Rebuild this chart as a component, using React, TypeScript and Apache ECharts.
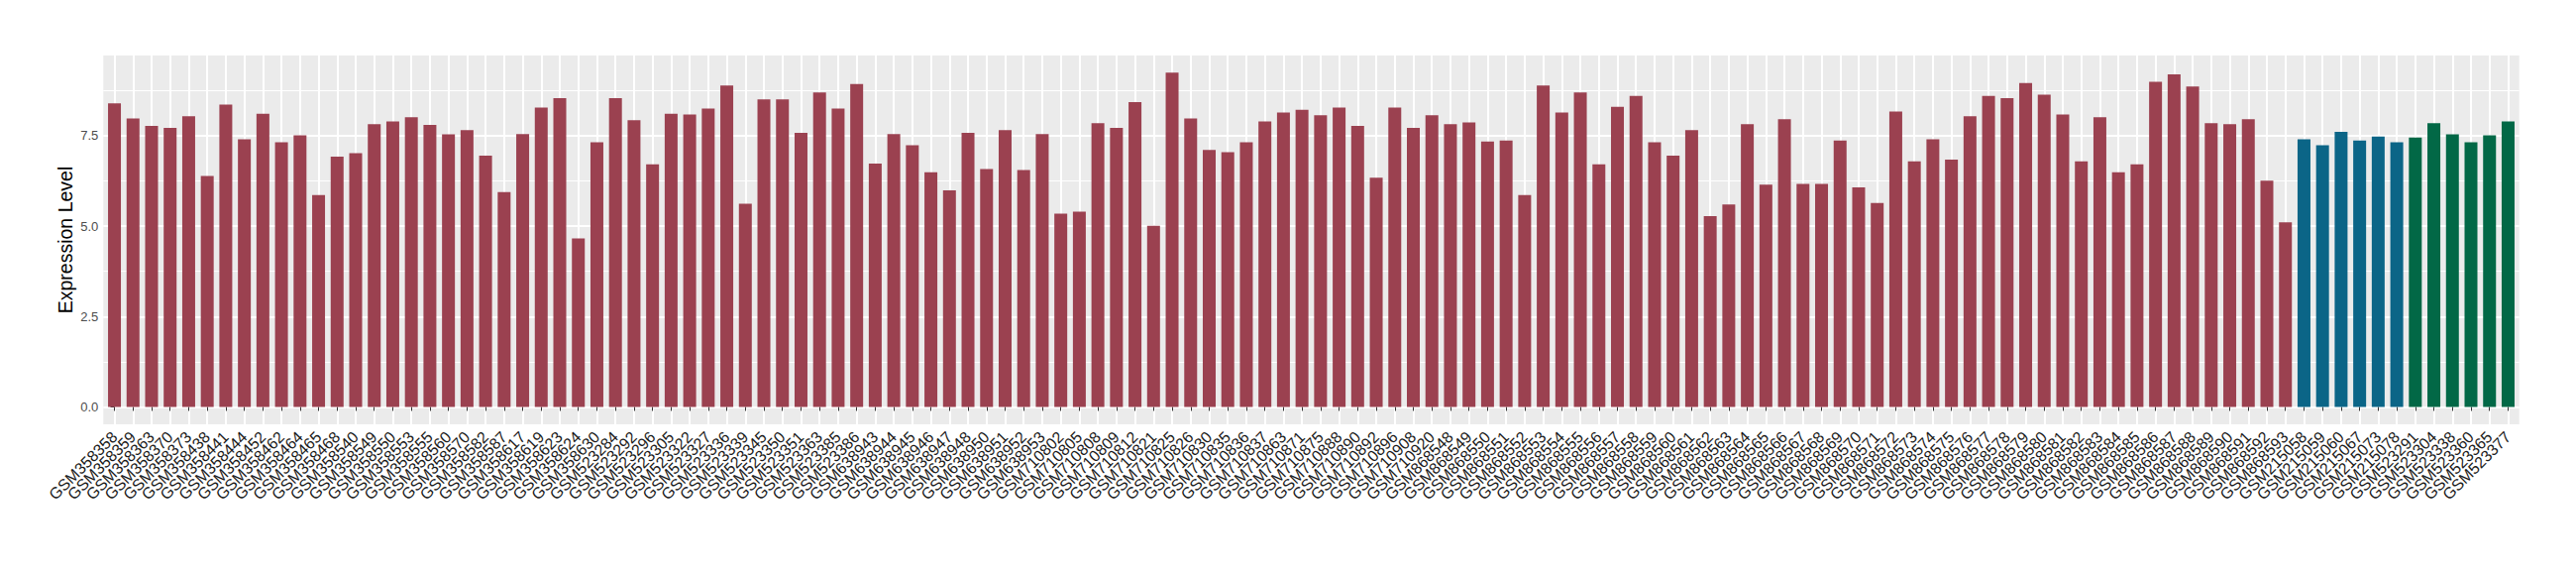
import React, { useEffect, useRef } from "react";
import * as echarts from "echarts";

// Group 1 (red)
const groupA_samples = [
  "GSM358358", "GSM358359", "GSM358363", "GSM358370", "GSM358373", "GSM358438", "GSM358441", "GSM358444",
  "GSM358452", "GSM358462", "GSM358464", "GSM358465", "GSM358468", "GSM358540", "GSM358549", "GSM358550",
  "GSM358553", "GSM358555", "GSM358560", "GSM358570", "GSM358582", "GSM358587", "GSM358617", "GSM358619",
  "GSM358623", "GSM358624", "GSM358630", "GSM523284", "GSM523292", "GSM523296", "GSM523305", "GSM523322",
  "GSM523327", "GSM523336", "GSM523339", "GSM523345", "GSM523350", "GSM523351", "GSM523363", "GSM523385",
  "GSM523386", "GSM638943", "GSM638944", "GSM638945", "GSM638946", "GSM638947", "GSM638948", "GSM638950",
  "GSM638951", "GSM638952", "GSM638953", "GSM710802", "GSM710805", "GSM710808", "GSM710809", "GSM710812",
  "GSM710821", "GSM710825", "GSM710826", "GSM710830", "GSM710835", "GSM710836", "GSM710837", "GSM710863",
  "GSM710871", "GSM710875", "GSM710888", "GSM710890", "GSM710892", "GSM710896", "GSM710908", "GSM710920",
  "GSM868548", "GSM868549", "GSM868550", "GSM868551", "GSM868552", "GSM868553", "GSM868554", "GSM868555",
  "GSM868556", "GSM868557", "GSM868558", "GSM868559", "GSM868560", "GSM868561", "GSM868562", "GSM868563",
  "GSM868564", "GSM868565", "GSM868566", "GSM868567", "GSM868568", "GSM868569", "GSM868570", "GSM868571",
  "GSM868572", "GSM868573", "GSM868574", "GSM868575", "GSM868576", "GSM868577", "GSM868578", "GSM868579",
  "GSM868580", "GSM868581", "GSM868582", "GSM868583", "GSM868584", "GSM868585", "GSM868586", "GSM868587",
  "GSM868588", "GSM868589", "GSM868590", "GSM868591", "GSM868592", "GSM868593",
];
const groupA_values = [
  8.40, 7.98, 7.77, 7.72, 8.04, 6.39, 8.36, 7.40,
  8.11, 7.32, 7.51, 5.86, 6.92, 7.02, 7.82, 7.90,
  8.01, 7.80, 7.54, 7.66, 6.95, 5.94, 7.55, 8.28,
  8.54, 4.66, 7.32, 8.54, 7.93, 6.71, 8.11, 8.09,
  8.25, 8.89, 5.62, 8.51, 8.51, 7.58, 8.70, 8.25,
  8.93, 6.73, 7.55, 7.24, 6.49, 5.99, 7.58, 6.58,
  7.66, 6.55, 7.55, 5.35, 5.40, 7.85, 7.72, 8.43,
  5.01, 9.25, 7.98, 7.11, 7.05, 7.32, 7.90, 8.14,
  8.22, 8.07, 8.28, 7.77, 6.34, 8.28, 7.72, 8.07,
  7.82, 7.87, 7.34, 7.37, 5.86, 8.89, 8.14, 8.70,
  6.71, 8.30, 8.60, 7.32, 6.95, 7.66, 5.28, 5.60,
  7.82, 6.15, 7.96, 6.17, 6.17, 7.37, 6.07, 5.64,
  8.17, 6.79, 7.40, 6.84, 8.04, 8.60, 8.54, 8.96,
  8.64, 8.09, 6.79, 8.01, 6.49, 6.71, 8.99, 9.20,
  8.86, 7.85, 7.82, 7.96, 6.26, 5.11,
];

// Group 2 (blue)
const groupB_samples = ["GSM215058", "GSM215059", "GSM215060", "GSM215067", "GSM215073", "GSM215078"];
const groupB_values = [7.40, 7.24, 7.61, 7.37, 7.48, 7.32];

// Group 3 (green)
const groupC_samples = ["GSM523291", "GSM523304", "GSM523338", "GSM523360", "GSM523365", "GSM523377"];
const groupC_values = [7.45, 7.85, 7.54, 7.32, 7.51, 7.90];

const groupColors = ["#9B4150", "#0B6587", "#026846"];

const yTickValues = [0, 2.5, 5, 7.5];
const yMin = -0.48;
const yMax = 9.72;
const yTitle = "Expression Level";

const FONT = "'Liberation Sans', Arial, Helvetica, sans-serif";

// panel geometry (ggplot-like: 0.6 category expansion each side)
const PANEL_LEFT = 104.3;
const PANEL_RIGHT = 2542.7;
const PANEL_TOP = 56;
const PANEL_BOTTOM = 428;
const W = 2600;
const H = 580;

export default function App() {
  const ref = useRef<HTMLDivElement>(null);

  useEffect(() => {
    if (!ref.current) return;
    const chart = echarts.init(ref.current, undefined, { renderer: "svg" });

    const groups = [
      { names: groupA_samples, values: groupA_values, color: groupColors[0] },
      { names: groupB_samples, values: groupB_values, color: groupColors[1] },
      { names: groupC_samples, values: groupC_values, color: groupColors[2] },
    ];
    const categories: string[] = [];
    const data: any[] = [];
    groups.forEach((g) => {
      g.names.forEach((n, j) => {
        categories.push(n);
        data.push({ value: g.values[j], itemStyle: { color: g.color } });
      });
    });
    const n = categories.length;
    const idxs = categories.map((_, i) => i);
    const step = (PANEL_RIGHT - PANEL_LEFT) / (n + 0.2);
    const catLeft = PANEL_LEFT + 0.1 * step;
    const catRight = PANEL_RIGHT - 0.1 * step;

    chart.setOption({
      animation: false,
      backgroundColor: "#ffffff",
      textStyle: { fontFamily: FONT },
      grid: [
        {
          left: PANEL_LEFT,
          right: W - PANEL_RIGHT,
          top: PANEL_TOP,
          bottom: H - PANEL_BOTTOM,
          show: true,
          backgroundColor: "#EBEBEB",
          borderWidth: 0,
        },
        {
          left: catLeft,
          right: W - catRight,
          top: PANEL_TOP,
          bottom: H - PANEL_BOTTOM,
          show: false,
        },
      ],
      xAxis: [
        {
          gridIndex: 0,
          type: "value",
          min: -0.6,
          max: n - 0.4,
          minInterval: 1,
          maxInterval: 1,
          axisLine: { show: false },
          axisTick: { show: false, customValues: idxs },
          axisLabel: { show: false, customValues: idxs },
          splitLine: { show: true, lineStyle: { color: "#FFFFFF", width: 2 } },
        },
        {
          gridIndex: 1,
          type: "category",
          data: categories,
          boundaryGap: true,
          axisLine: { show: false },
          axisTick: {
            show: true,
            alignWithLabel: true,
            interval: 0,
            length: 4,
            lineStyle: { color: "#333333", width: 1 },
          },
          axisLabel: {
            interval: 0,
            rotate: 45,
            fontSize: 16,
            color: "#1A1A1A",
            margin: 10,
            fontFamily: FONT,
          },
          splitLine: { show: false },
        },
      ],
      yAxis: [
        {
          gridIndex: 0,
          type: "value",
          min: yMin,
          max: yMax,
          minInterval: 2.5,
          maxInterval: 2.5,
          axisLine: { show: false },
          axisTick: {
            show: true,
            length: 4,
            customValues: yTickValues,
            lineStyle: { color: "#333333", width: 1 },
          },
          axisLabel: {
            customValues: yTickValues,
            formatter: (v: number) => v.toFixed(1),
            fontSize: 13,
            color: "#4D4D4D",
            margin: 5,
            showMinLabel: true,
            showMaxLabel: true,
            fontFamily: FONT,
          },
          splitLine: { show: true, lineStyle: { color: "#FFFFFF", width: 2 } },
          minorTick: { show: false, splitNumber: 2 },
          minorSplitLine: { show: true, lineStyle: { color: "#FFFFFF", width: 1 } },
        },
        {
          gridIndex: 1,
          type: "value",
          min: yMin,
          max: yMax,
          show: false,
          splitLine: { show: false },
        },
      ],
      graphic: [
        {
          type: "text",
          x: 66,
          y: 242,
          rotation: Math.PI / 2,
          style: {
            text: yTitle,
            fontSize: 19.5,
            fontFamily: FONT,
            fill: "#000000",
            align: "center",
            verticalAlign: "middle",
          },
        },
      ],
      series: [
        {
          type: "bar",
          xAxisIndex: 1,
          yAxisIndex: 1,
          data,
          barWidth: 13,
        },
      ],
    });

    return () => {
      chart.dispose();
    };
  }, []);

  return (
    <div
      ref={ref}
      style={{ position: "absolute", left: 0, top: 0, width: W, height: H }}
    />
  );
}
